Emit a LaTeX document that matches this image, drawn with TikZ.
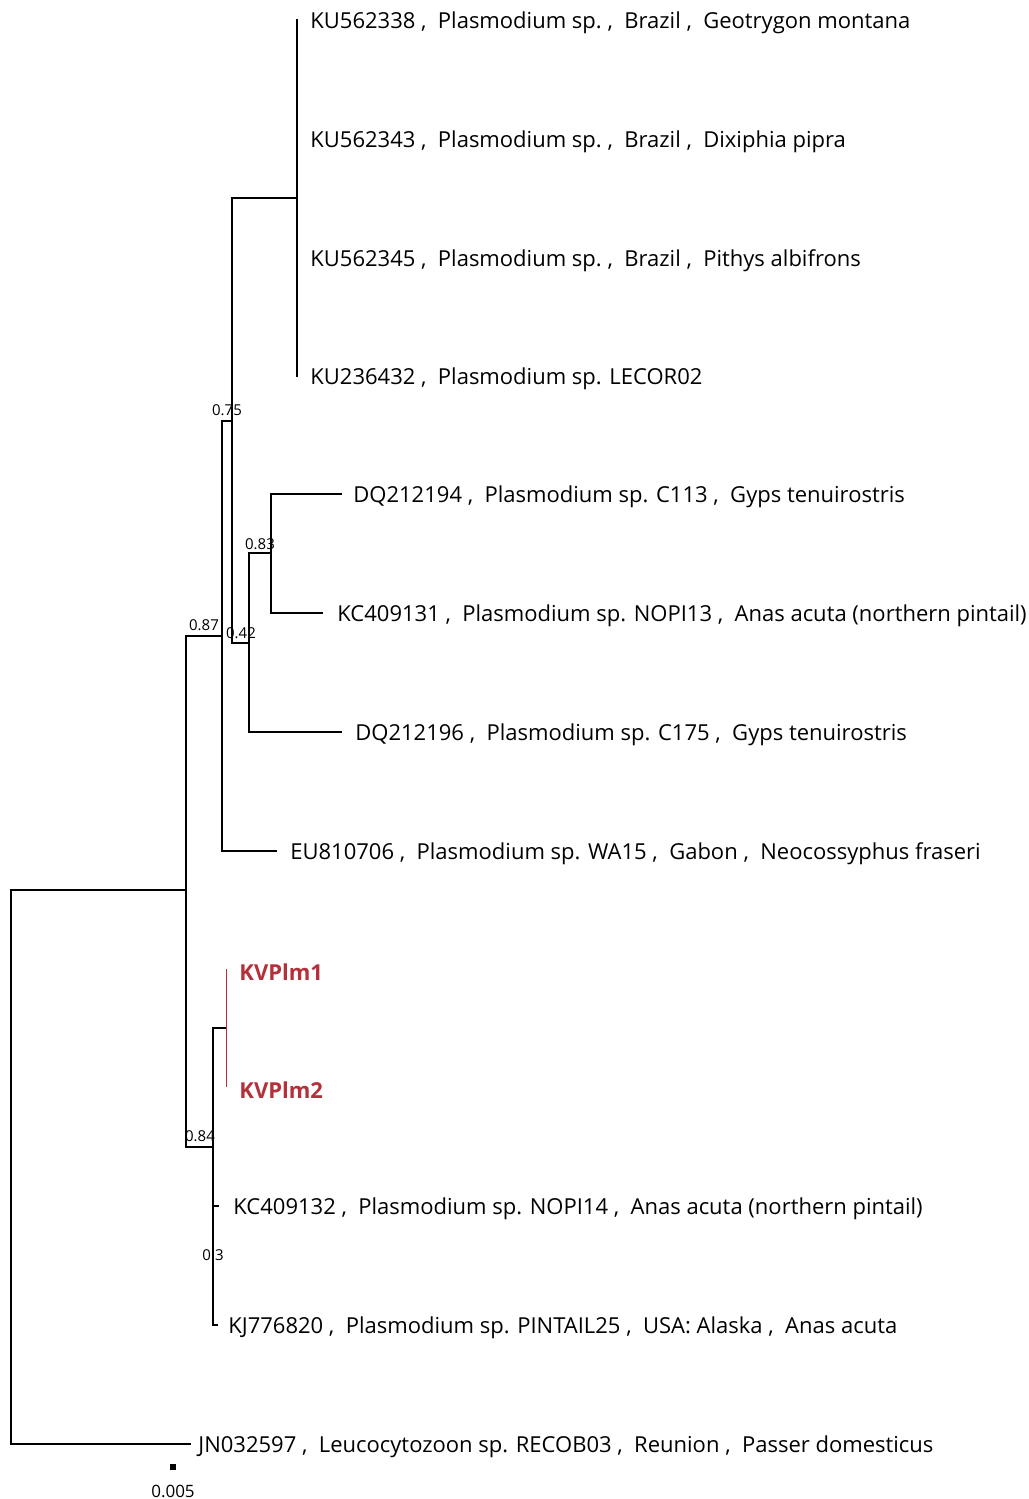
\documentclass[tikz,border=0pt]{standalone}
\usepackage{fontspec}
\setmainfont{Open Sans}
\definecolor{kvred}{RGB}{180,48,58}

\begin{document}
\begin{tikzpicture}[x=0.5pt,y=-0.5pt,
  branch/.style={line width=0.75pt,line cap=rect},
  kvbranch/.style={kvred,line width=0.5pt},
  leaf/.style={anchor=west,inner sep=0pt,yshift=-1.5pt,font=\fontsize{11}{13}\selectfont},
  kvleaf/.style={leaf,kvred,font=\fontsize{11}{13}\selectfont\bfseries},
  supp/.style={inner sep=0pt,font=\fontsize{7.5}{9}\selectfont}]
 \useasboundingbox (0,0) rectangle (1028,1499);
 \coordinate (root) at (11,1166);
 \coordinate (nA) at (186,890);
 \coordinate (nB) at (222,636);
 \coordinate (nC) at (232,421);
 \coordinate (nE) at (297,198);
 \coordinate (nF) at (249,643);
 \coordinate (nG) at (271,553);
 \coordinate (nD) at (213,1147);
 \coordinate (nH) at (226,1028);
 \coordinate (nI) at (213,1265);
 \coordinate (tKU1) at (297,20);
 \coordinate (tKU2) at (297,139);
 \coordinate (tKU3) at (297,258);
 \coordinate (tKU4) at (297,376);
 \coordinate (tDQ94) at (341,494);
 \coordinate (tKC31) at (322,613);
 \coordinate (tDQ96) at (341,732);
 \coordinate (tEU) at (276,851);
 \coordinate (tKV1) at (226,969);
 \coordinate (tKV2) at (226,1087);
 \coordinate (tKC32) at (218,1206);
 \coordinate (tKJ) at (217,1325);
 \coordinate (tJN) at (190,1444);
 \draw[branch] (root) |- (nA);
 \draw[branch] (root) |- (tJN);
 \draw[branch] (nA) |- (nB);
 \draw[branch] (nA) |- (nD);
 \draw[branch] (nB) |- (nC);
 \draw[branch] (nB) |- (tEU);
 \draw[branch] (nC) |- (nE);
 \draw[branch] (nC) |- (nF);
 \draw[branch] (nE) |- (tKU1);
 \draw[branch] (nE) |- (tKU2);
 \draw[branch] (nE) |- (tKU3);
 \draw[branch] (nE) |- (tKU4);
 \draw[branch] (nF) |- (nG);
 \draw[branch] (nF) |- (tDQ96);
 \draw[branch] (nG) |- (tDQ94);
 \draw[branch] (nG) |- (tKC31);
 \draw[branch] (nD) |- (nH);
 \draw[branch] (nD) |- (nI);
 \draw[kvbranch] (nH) |- (tKV1);
 \draw[kvbranch] (nH) |- (tKV2);
 \draw[branch] (nI) |- (tKC32);
 \draw[branch] (nI) |- (tKJ);
 \node[leaf] (lKU1) at (310,20) {KU562338~,~~Plasmodium sp.~,~~Brazil~,~~Geotrygon montana};
 \node[leaf] (lKU2) at (310,139) {KU562343~,~~Plasmodium sp.~,~~Brazil~,~~Dixiphia pipra};
 \node[leaf] (lKU3) at (310,258) {KU562345~,~~Plasmodium sp.~,~~Brazil~,~~Pithys albifrons};
 \node[leaf] (lKU4) at (310,376) {KU236432~,~~Plasmodium sp. LECOR02};
 \node[leaf] (lDQ94) at (353,494) {DQ212194~,~~Plasmodium sp. C113~,~~Gyps tenuirostris};
 \node[leaf] (lKC31) at (337,613) {KC409131~,~~Plasmodium sp. NOPI13~,~~Anas acuta (northern pintail)};
 \node[leaf] (lDQ96) at (355,732) {DQ212196~,~~Plasmodium sp. C175~,~~Gyps tenuirostris};
 \node[leaf] (lEU) at (290,851) {EU810706~,~~Plasmodium sp. WA15~,~~Gabon~,~~Neocossyphus fraseri};
 \node[kvleaf] (lKV1) at (239,969) {KVPlm1};
 \node[kvleaf] (lKV2) at (239,1087) {KVPlm2};
 \node[leaf] (lKC32) at (233,1206) {KC409132~,~~Plasmodium sp. NOPI14~,~~Anas acuta (northern pintail)};
 \node[leaf] (lKJ) at (228,1325) {KJ776820~,~~Plasmodium sp. PINTAIL25~,~~USA: Alaska~,~~Anas acuta};
 \node[leaf] (lJN) at (198,1444) {JN032597~,~~Leucocytozoon sp. RECOB03~,~~Reunion~,~~Passer domesticus};
 \node[supp] (s075) at (227,410) {0.75};
 \node[supp] (s087) at (204,625) {0.87};
 \node[supp] (s042) at (241,633) {0.42};
 \node[supp] (s083) at (260,544) {0.83};
 \node[supp] (s084) at (200,1136) {0.84};
 \node[supp] (s03) at (213,1255) {0.3};
 \node[fill=black,inner sep=0pt,minimum size=3pt] (sbar) at (173,1467) {};
 \node[supp,font=\fontsize{8.5}{10}\selectfont] (lbar) at (173,1491) {0.005};
\end{tikzpicture}
\end{document}
